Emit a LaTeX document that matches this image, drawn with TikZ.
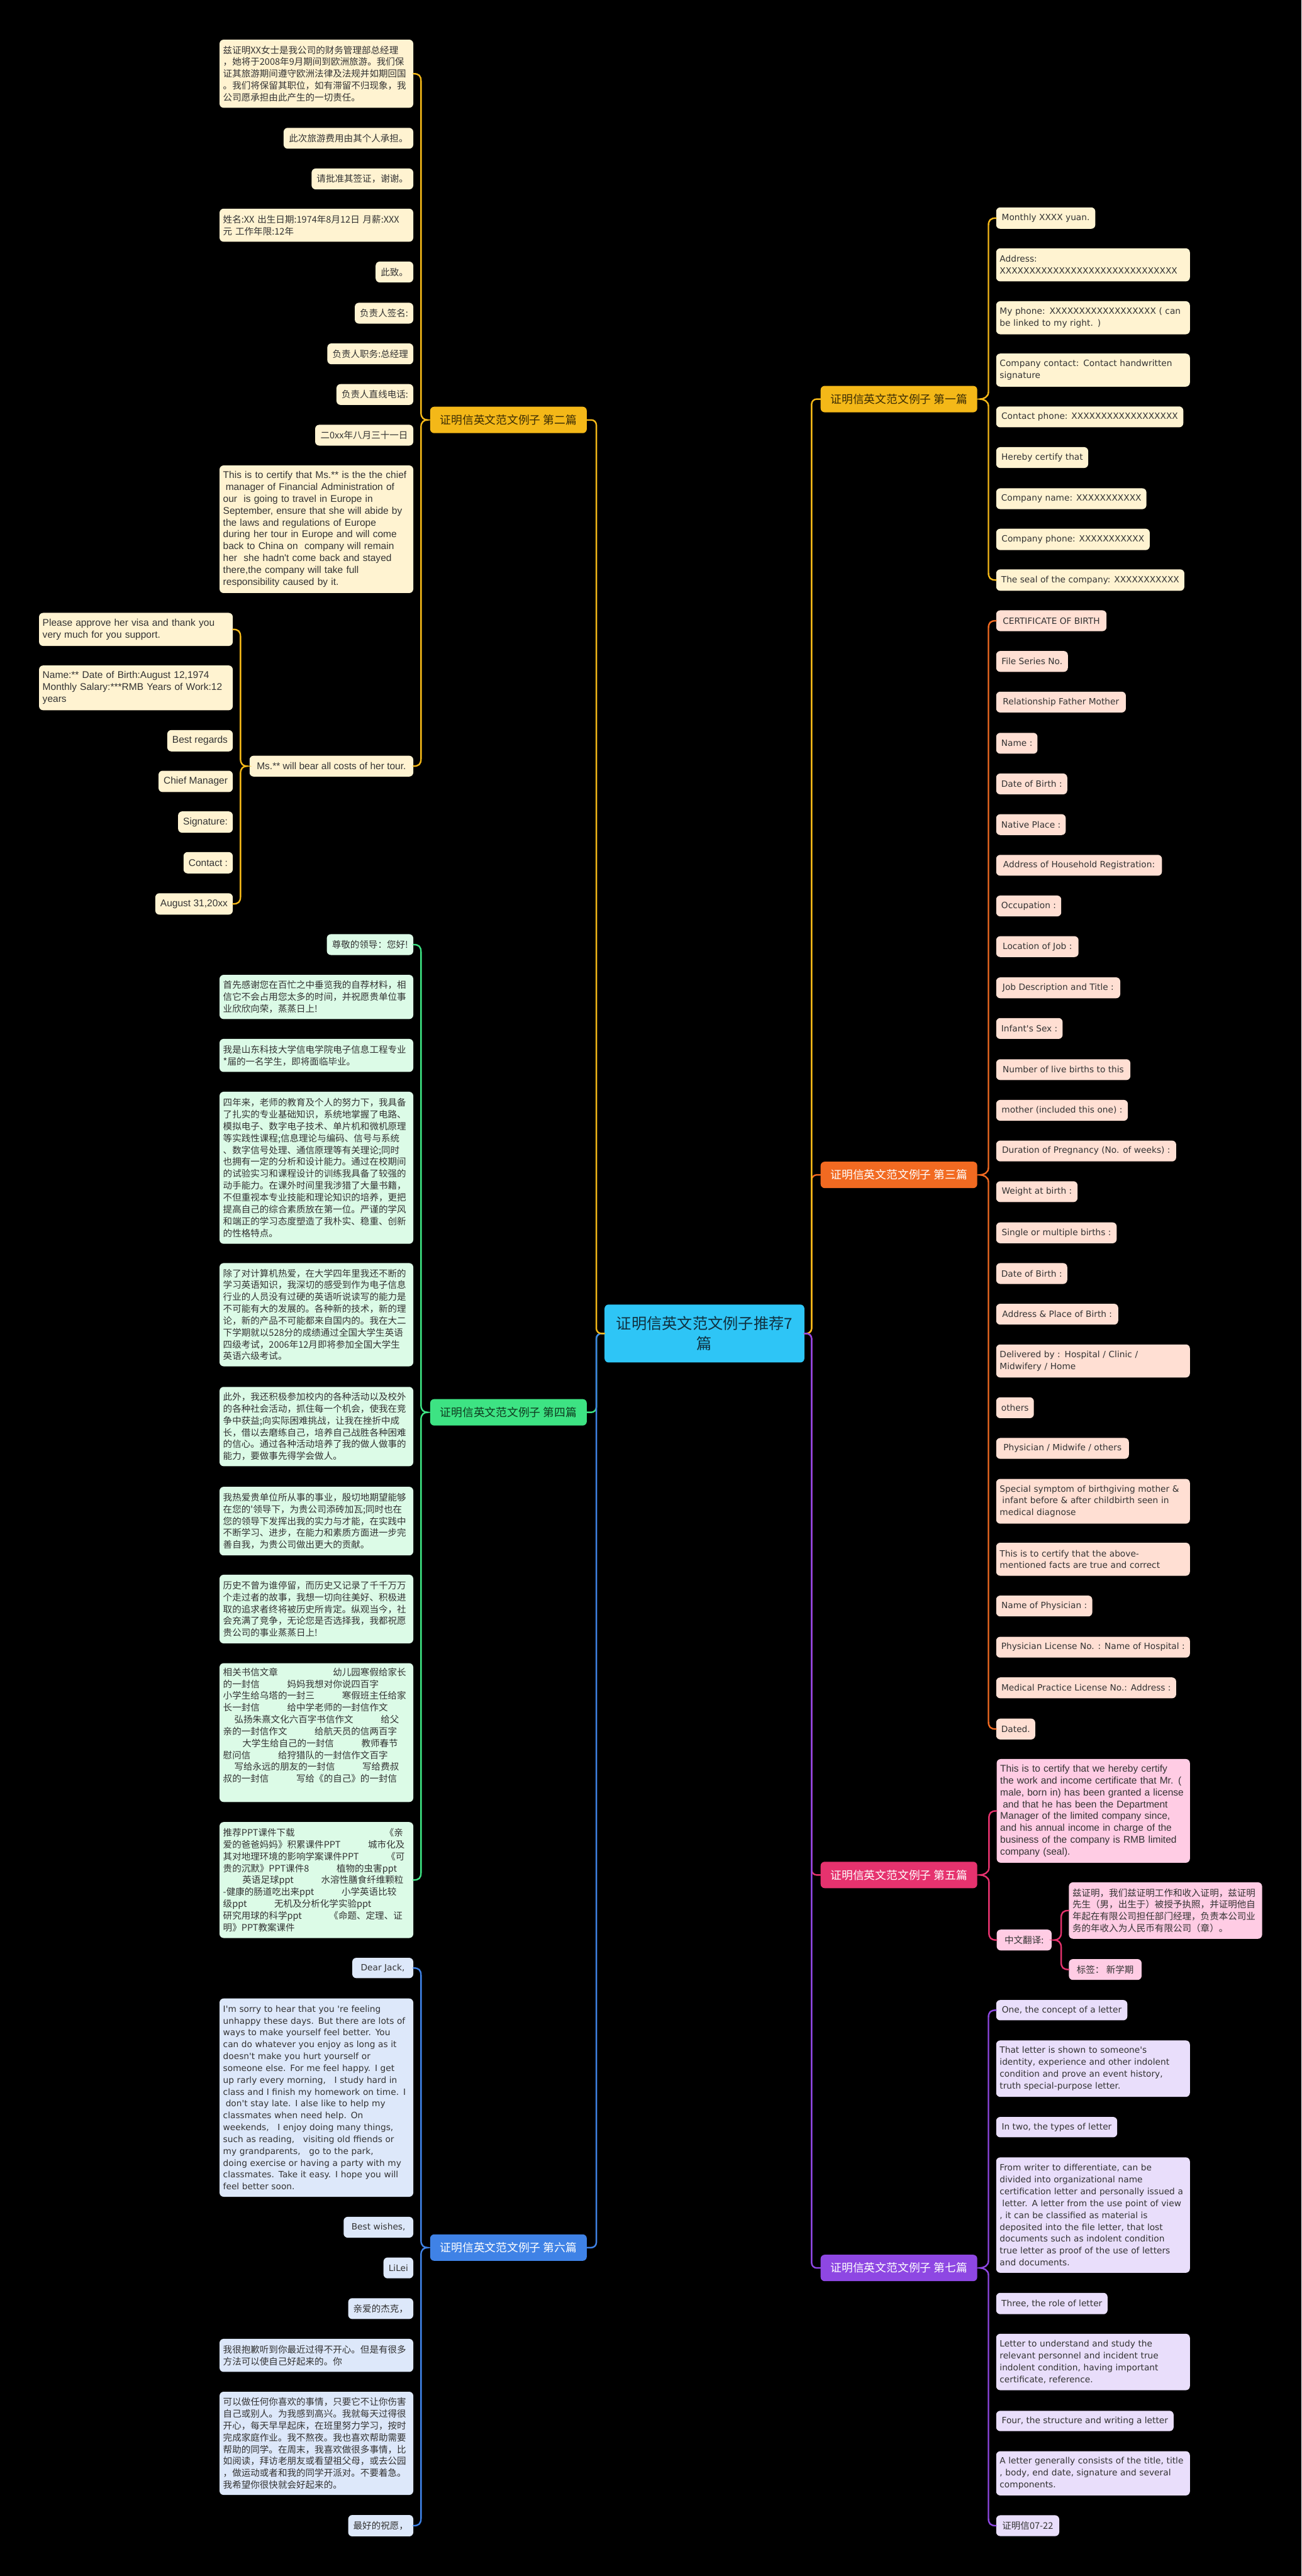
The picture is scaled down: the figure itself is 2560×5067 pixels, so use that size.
\documentclass[tikz,border=0pt]{standalone}
\usepackage{fontspec}
\usetikzlibrary{calc}
\newfontfamily\cjkf{Noto Sans CJK SC}
\newfontfamily\libf{Liberation Sans}
\newfontfamily\dejf{DejaVu Sans}
\newcommand\ftCJ{\cjkf\fontsize{18pt}{23.3pt}\selectfont}
\newcommand\ftLS{\libf\fontsize{19.2pt}{23.3pt}\selectfont}
\newcommand\ftDJ{\dejf\fontsize{17pt}{23.3pt}\selectfont}
\newcommand\ftBR{\cjkf\fontsize{22pt}{28pt}\selectfont}
\newcommand\ftMN{\cjkf\fontsize{30pt}{40pt}\selectfont}
\definecolor{cream}{HTML}{FFF3D1}
\definecolor{peach}{HTML}{FFDFD3}
\definecolor{pinkl}{HTML}{FFCCE4}
\definecolor{lav}{HTML}{E9DEFB}
\definecolor{mint}{HTML}{DCFBE7}
\definecolor{lblue}{HTML}{DDE8FA}
\definecolor{cY}{HTML}{F4B818}
\definecolor{cO}{HTML}{F26A21}
\definecolor{cP}{HTML}{E6326E}
\definecolor{cV}{HTML}{8E47E3}
\definecolor{cG}{HTML}{3DE383}
\definecolor{cB}{HTML}{3F82E6}
\definecolor{cC}{HTML}{2EC5F6}
\definecolor{txt}{HTML}{333333}
\definecolor{brownT}{HTML}{3A2C05}
\definecolor{greenT}{HTML}{0E3A1F}
\definecolor{darkT}{HTML}{10303F}
\newcommand\braceL[4]{%
 \path ($(#2.east)!(#4.west)!(#3.east)$) coordinate (bm);
 \draw[brc,#1] (#2.east) .. controls +(11,0) and +(0,-11) .. ($(#2.east)+(15,15)$)
   -- ($(bm)+(15,-14)$) .. controls +(0,10) and +(-7,0) .. ($(bm -| #4.west)+(-5,0)$)
   .. controls +(-7,0) and +(0,-10) .. ($(bm)+(15,14)$)
   -- ($(#3.east)+(15,-15)$) .. controls +(0,11) and +(11,0) .. (#3.east);}
\newcommand\braceR[4]{%
 \path ($(#2.west)!(#4.east)!(#3.west)$) coordinate (bm);
 \draw[brc,#1] (#2.west) .. controls +(-11,0) and +(0,-11) .. ($(#2.west)+(-15,15)$)
   -- ($(bm)+(-15,-14)$) .. controls +(0,10) and +(7,0) .. ($(bm -| #4.east)+(5,0)$)
   .. controls +(7,0) and +(0,-10) .. ($(bm)+(-15,14)$)
   -- ($(#3.west)+(-15,-15)$) .. controls +(0,11) and +(-11,0) .. (#3.west);}
\begin{document}
\begin{tikzpicture}[x=1pt,y=-1pt,
  lf/.style={rounded corners=8pt, inner xsep=10pt, inner ysep=2pt, align=left, text=txt},
  LL/.style={lf, anchor=east}, RR/.style={lf, anchor=west},
  mw/.style={minimum width=#1pt}, mh/.style={minimum height=#1pt},
  M/.style={text width=367pt, inner xsep=7pt},
  Mb/.style={text width=366pt, inner xsep=7pt},
  mh=41,
  br/.style={rounded corners=8pt, minimum width=308pt, minimum height=52pt, font=\ftBR, inner sep=0pt},
  conn/.style={line width=3pt, rounded corners=10pt, line cap=round},
  brc/.style={line width=3pt, line cap=round}]
\useasboundingbox (0,0) rectangle (2560,5067);
\fill[black] (0,0) rectangle (2560,5067);

% ---------- centre and branches ----------
\node[rounded corners=8pt, fill=cC, minimum width=393pt, minimum height=114pt, font=\ftMN, align=center, text=darkT] (c) at (1385.5,2623) {证明信英文范文例子推荐7\\篇};
\node[br,fill=cY,text=brownT] (b2) at (1000,826) {证明信英文范文例子 第二篇};
\node[br,fill=cG,text=greenT] (b4) at (1000,2778) {证明信英文范文例子 第四篇};
\node[br,fill=cB,text=white] (b6) at (1000,4421) {证明信英文范文例子 第六篇};
\node[br,fill=cY,text=brownT] (b1) at (1768,785) {证明信英文范文例子 第一篇};
\node[br,fill=cO,text=white] (b3) at (1768,2311) {证明信英文范文例子 第三篇};
\node[br,fill=cP,text=white] (b5) at (1768,3688) {证明信英文范文例子 第五篇};
\node[br,fill=cV,text=white] (b7) at (1768,4461) {证明信英文范文例子 第七篇};

% ---------- 第二篇 ----------
\node[LL,M,fill=cream,font=\ftCJ,mh=134] (a1) at (813,145) {兹证明XX女士是我公司的财务管理部总经理\\，她将于2008年9月期间到欧洲旅游。我们保\\证其旅游期间遵守欧洲法律及法规并如期回国\\。我们将保留其职位，如有滞留不归现象，我\\公司愿承担由此产生的一切责任。};
\node[LL,fill=cream,font=\ftCJ,mw=255] (a2) at (813,272) {此次旅游费用由其个人承担。};
\node[LL,fill=cream,font=\ftCJ,mw=200] (a3) at (813,352) {请批准其签证，谢谢。};
\node[LL,M,fill=cream,font=\ftCJ,mh=65] (a4) at (813,443) {姓名:XX 出生日期:1974年8月12日 月薪:XXX\\元 工作年限:12年};
\node[LL,fill=cream,font=\ftCJ,mw=74] (a5) at (813,535) {此致。};
\node[LL,fill=cream,font=\ftCJ,mw=114] (a6) at (813,616) {负责人签名:};
\node[LL,fill=cream,font=\ftCJ,mw=169] (a7) at (813,696) {负责人职务:总经理};
\node[LL,fill=cream,font=\ftCJ,mw=150] (a8) at (813,776) {负责人直线电话:};
\node[LL,fill=cream,font=\ftCJ,mw=193] (a9) at (813,856) {二0xx年八月三十一日};
\node[LL,M,fill=cream,font=\ftLS,mh=251] (a10) at (813,1041) {This is to certify that Ms.** is the the chief\\\hspace*{5pt}manager of Financial Administration of\\our\ \ is going to travel in Europe in\\September, ensure that she will abide by\\the laws and regulations of Europe\\during her tour in Europe and will come\\back to China on\ \ company will remain\\her\ \ she hadn't come back and stayed\\there,the company will take full\\responsibility caused by it.};
\node[LL,fill=cream,font=\ftLS,mw=322] (a11) at (813,1507) {Ms.** will bear all costs of her tour.};

\node[LL,M,fill=cream,font=\ftLS,mh=65] (s1) at (458,1238) {Please approve her visa and thank you\\very much for you support.};
\node[LL,M,fill=cream,font=\ftLS,mh=88] (s2) at (458,1353) {Name:** Date of Birth:August 12,1974\\Monthly Salary:***RMB Years of Work:12\\years};
\node[LL,fill=cream,font=\ftLS,mw=126,mh=42] (s3) at (458,1457) {Best regards};
\node[LL,fill=cream,font=\ftLS,mw=146,mh=42] (s4) at (458,1537) {Chief Manager};
\node[LL,fill=cream,font=\ftLS,mw=105,mh=42] (s5) at (458,1617) {Signature:};
\node[LL,fill=cream,font=\ftLS,mw=96,mh=42] (s6) at (458,1697) {Contact :};
\node[LL,fill=cream,font=\ftLS,mw=150,mh=42] (s7) at (458,1778) {August 31,20xx};

% ---------- 第四篇 ----------
\node[LL,fill=mint,font=\ftCJ,mw=170] (d1) at (813,1858) {尊敬的领导：您好!};
\node[LL,M,fill=mint,font=\ftCJ,mh=87] (d2) at (813,1961) {首先感谢您在百忙之中垂览我的自荐材料，相\\信它不会占用您太多的时间，并祝愿贵单位事\\业欣欣向荣，蒸蒸日上!};
\node[LL,M,fill=mint,font=\ftCJ,mh=65] (d3) at (813,2076) {我是山东科技大学信电学院电子信息工程专业\\**届的一名学生，即将面临毕业。};
\node[LL,M,fill=mint,font=\ftCJ,mh=299] (d4) at (813,2297) {四年来，老师的教育及个人的努力下，我具备\\了扎实的专业基础知识，系统地掌握了电路、\\模拟电子、数字电子技术、单片机和微机原理\\等实践性课程;信息理论与编码、信号与系统\\、数字信号处理、通信原理等有关理论;同时\\也拥有一定的分析和设计能力。通过在校期间\\的试验实习和课程设计的训练我具备了较强的\\动手能力。在课外时间里我涉猎了大量书籍，\\不但重视本专业技能和理论知识的培养，更把\\提高自己的综合素质放在第一位。严谨的学风\\和端正的学习态度塑造了我朴实、稳重、创新\\的性格特点。};
\node[LL,M,fill=mint,font=\ftCJ,mh=203] (d5) at (813,2586) {除了对计算机热爱，在大学四年里我还不断的\\学习英语知识，我深切的感受到作为电子信息\\行业的人员没有过硬的英语听说读写的能力是\\不可能有大的发展的。各种新的技术，新的理\\论，新的产品不可能都来自国内的。我在大二\\下学期就以528分的成绩通过全国大学生英语\\四级考试，2006年12月即将参加全国大学生\\英语六级考试。};
\node[LL,M,fill=mint,font=\ftCJ,mh=156] (d6) at (813,2806) {此外，我还积极参加校内的各种活动以及校外\\的各种社会活动，抓住每一个机会，使我在竞\\争中获益;向实际困难挑战，让我在挫折中成\\长，借以去磨练自己，培养自己战胜各种困难\\的信心。通过各种活动培养了我的做人做事的\\能力，要做事先得学会做人。};
\node[LL,M,fill=mint,font=\ftCJ,mh=135] (d7) at (813,2992) {我热爱贵单位所从事的事业，殷切地期望能够\\在您的'领导下，为贵公司添砖加瓦;同时也在\\您的领导下发挥出我的实力与才能，在实践中\\不断学习、进步，在能力和素质方面进一步完\\善自我，为贵公司做出更大的贡献。};
\node[LL,M,fill=mint,font=\ftCJ,mh=135] (d8) at (813,3165) {历史不曾为谁停留，而历史又记录了千千万万\\个走过者的故事，我想一切向往美好、积极进\\取的追求者终将被历史所肯定。纵观当今，社\\会充满了竞争，无论您是否选择我，我都祝愿\\贵公司的事业蒸蒸日上!};
\node[LL,M,fill=mint,font=\ftCJ,mh=273] (d9) at (813,3408) {相关书信文章\hspace{108pt}幼儿园寒假给家长\\的一封信\hspace{54pt}妈妈我想对你说四百字\\小学生给乌塔的一封三\hspace{54pt}寒假班主任给家\\长一封信\hspace{54pt}给中学老师的一封信作文\\\hspace*{22pt}弘扬朱熹文化六百字书信作文\hspace{54pt}给父\\亲的一封信作文\hspace{54pt}给航天员的信两百字\\\hspace*{38pt}大学生给自己的一封信\hspace{54pt}教师春节\\慰问信\hspace{54pt}给狩猎队的一封信作文百字\\\hspace*{22pt}写给永远的朋友的一封信\hspace{54pt}写给费叔\\叔的一封信\hspace{54pt}写给《的自己》的一封信\\\strut};
\node[LL,M,fill=mint,font=\ftCJ,mh=228] (d10) at (813,3698) {推荐PPT课件下载\hspace{177pt}《亲\\爱的爸爸妈妈》积累课件PPT\hspace{54pt}城市化及\\其对地理环境的影响学案课件PPT\hspace{54pt}《可\\贵的沉默》PPT课件8\hspace{54pt}植物的虫害ppt\\\hspace*{38pt}英语足球ppt\hspace{54pt}水溶性膳食纤维颗粒\\-健康的肠道吃出来ppt\hspace{54pt}小学英语比较\\级ppt\hspace{54pt}无机及分析化学实验ppt\\研究用球的科学ppt\hspace{54pt}《命题、定理、证\\明》PPT教案课件};

% ---------- 第六篇 ----------
\node[LL,fill=lblue,font=\ftDJ,mw=120,mh=40] (f1) at (813,3871) {Dear Jack,};
\node[LL,M,fill=lblue,font=\ftDJ,mh=390] (f2) at (813,4126) {I'm sorry to hear that you 're feeling\\unhappy these days. But there are lots of\\ways to make yourself feel better. You\\can do whatever you enjoy as long as it\\doesn't make you hurt yourself or\\someone else. For me feel happy. I get\\up rarly every morning,\ \ \ I study hard in\\class and I finish my homework on time. I\\\hspace*{5pt}don't stay late. I alse like to help my\\classmates when need help. On\\weekends,\ \ \ I enjoy doing many things,\\such as reading,\ \ \ visiting old ffiends or\\my grandparents,\ \ \ go to the park,\\doing exercise or having a party with my\\classmates. Take it easy. I hope you will\\feel better soon.};
\node[LL,fill=lblue,font=\ftDJ,mw=137] (f3) at (813,4381) {Best wishes,};
\node[LL,fill=lblue,font=\ftDJ,mw=58] (f4) at (813,4461) {LiLei};
\node[LL,fill=lblue,font=\ftCJ,mw=128] (f5) at (813,4541) {亲爱的杰克，};
\node[LL,M,fill=lblue,font=\ftCJ,mh=65] (f6) at (813,4633) {我很抱歉听到你最近过得不开心。但是有很多\\方法可以使自己好起来的。你};
\node[LL,M,fill=lblue,font=\ftCJ,mh=203] (f7) at (813,4806) {可以做任何你喜欢的事情，只要它不让你伤害\\自己或别人。为我感到高兴。我就每天过得很\\开心，每天早早起床，在班里努力学习，按时\\完成家庭作业。我不熬夜。我也喜欢帮助需要\\帮助的同学。在周末，我喜欢做很多事情，比\\如阅读，拜访老朋友或看望祖父母，或去公园\\，做运动或者和我的同学开派对。不要着急。\\我希望你很快就会好起来的。};
\node[LL,fill=lblue,font=\ftCJ,mw=128,mh=42] (f8) at (813,4968) {最好的祝愿，};

% ---------- 第一篇 ----------
\node[RR,fill=cream,font=\ftDJ,mw=195,mh=42] (r1) at (1959,429) {Monthly XXXX yuan.};
\node[RR,M,fill=cream,font=\ftDJ,mh=65] (r2) at (1959,521) {Address:\\XXXXXXXXXXXXXXXXXXXXXXXXXXXXXX};
\node[RR,M,fill=cream,font=\ftDJ,mh=65] (r3) at (1959,625) {My phone: XXXXXXXXXXXXXXXXXX ( can\\be linked to my right. )};
\node[RR,M,fill=cream,font=\ftDJ,mh=65] (r4) at (1959,728) {Company contact: Contact handwritten\\signature};
\node[RR,fill=cream,font=\ftDJ,mw=368] (r5) at (1959,820) {Contact phone: XXXXXXXXXXXXXXXXXX};
\node[RR,fill=cream,font=\ftDJ,mw=181] (r6) at (1959,900) {Hereby certify that};
\node[RR,fill=cream,font=\ftDJ,mw=294] (r7) at (1959,981) {Company name: XXXXXXXXXXX};
\node[RR,fill=cream,font=\ftDJ,mw=302,mh=42] (r8) at (1959,1061) {Company phone: XXXXXXXXXXX};
\node[RR,fill=cream,font=\ftDJ,mw=370,mh=42] (r9) at (1959,1141) {The seal of the company: XXXXXXXXXXX};

% ---------- 第三篇 ----------
\node[RR,fill=peach,font=\ftDJ,mw=217] (t1) at (1959,1221) {CERTIFICATE OF BIRTH};
\node[RR,fill=peach,font=\ftDJ,mw=141] (t2) at (1959,1301) {File Series No.};
\node[RR,fill=peach,font=\ftDJ,mw=255] (t3) at (1959,1381) {Relationship Father Mother};
\node[RR,fill=peach,font=\ftDJ,mw=80] (t4) at (1959,1462) {Name :};
\node[RR,fill=peach,font=\ftDJ,mw=139] (t5) at (1959,1542) {Date of Birth :};
\node[RR,fill=peach,font=\ftDJ,mw=135] (t6) at (1959,1622) {Native Place :};
\node[RR,fill=peach,font=\ftDJ,mw=326] (t7) at (1959,1702) {Address of Household Registration:};
\node[RR,fill=peach,font=\ftDJ,mw=128] (t8) at (1959,1782) {Occupation :};
\node[RR,fill=peach,font=\ftDJ,mw=162] (t9) at (1959,1862) {Location of Job :};
\node[RR,fill=peach,font=\ftDJ,mw=244] (t10) at (1959,1943) {Job Description and Title :};
\node[RR,fill=peach,font=\ftDJ,mw=128] (t11) at (1959,2023) {Infant's Sex :};
\node[RR,fill=peach,font=\ftDJ,mw=264] (t12) at (1959,2104) {Number of live births to this};
\node[RR,fill=peach,font=\ftDJ,mw=259] (t13) at (1959,2184) {mother (included this one) :};
\node[RR,fill=peach,font=\ftDJ,mw=354] (t14) at (1959,2264) {Duration of Pregnancy (No. of weeks) :};
\node[RR,fill=peach,font=\ftDJ,mw=160] (t15) at (1959,2344) {Weight at birth :};
\node[RR,fill=peach,font=\ftDJ,mw=237] (t16) at (1959,2425) {Single or multiple births :};
\node[RR,fill=peach,font=\ftDJ,mw=139] (t17) at (1959,2505) {Date of Birth :};
\node[RR,fill=peach,font=\ftDJ,mw=240] (t18) at (1959,2585) {Address \& Place of Birth :};
\node[RR,M,fill=peach,font=\ftDJ,mh=65] (t19) at (1959,2677) {Delivered by : Hospital / Clinic /\\Midwifery / Home};
\node[RR,fill=peach,font=\ftDJ,mw=74] (t20) at (1959,2769) {others};
\node[RR,fill=peach,font=\ftDJ,mw=261] (t21) at (1959,2849) {Physician / Midwife / others};
\node[RR,M,fill=peach,font=\ftDJ,mh=88] (t22) at (1959,2953) {Special symptom of birthgiving mother \&\\\hspace*{5pt}infant before \& after childbirth seen in\\medical diagnose};
\node[RR,M,fill=peach,font=\ftDJ,mh=65] (t23) at (1959,3067) {This is to certify that the above-\\mentioned facts are true and correct};
\node[RR,fill=peach,font=\ftDJ,mw=189] (t24) at (1959,3159) {Name of Physician :};
\node[RR,fill=peach,font=\ftDJ,mw=381] (t25) at (1959,3240) {Physician License No. : Name of Hospital :};
\node[RR,fill=peach,font=\ftDJ,mw=354] (t26) at (1959,3320) {Medical Practice License No.: Address :};
\node[RR,fill=peach,font=\ftDJ,mw=76] (t27) at (1959,3401) {Dated.};

% ---------- 第五篇 ----------
\node[RR,Mb,fill=pinkl,font=\ftLS,mh=204] (p1) at (1960,3562) {This is to certify that we hereby certify\\the work and income certificate that Mr. (\\male, born in) has been granted a license\\\hspace*{5pt}and that he has been the Department\\Manager of the limited company since,\\and his annual income in charge of the\\business of the company is RMB limited\\company (seal).};
\node[RR,fill=pinkl,font=\ftCJ,mw=108] (p2) at (1960,3816) {中文翻译:};
\node[RR,Mb,fill=pinkl,font=\ftCJ,mh=111] (p3) at (2102,3758) {兹证明，我们兹证明工作和收入证明，兹证明\\先生（男，出生于）被授予执照，并证明他自\\年起在有限公司担任部门经理，负责本公司业\\务的年收入为人民币有限公司（章）。};
\node[RR,fill=pinkl,font=\ftCJ,mw=143] (p4) at (2102,3874) {标签： 新学期};

% ---------- 第七篇 ----------
\node[RR,fill=lav,font=\ftDJ,mw=258,mh=40] (v1) at (1959,3954) {One, the concept of a letter};
\node[RR,M,fill=lav,font=\ftDJ,mh=111] (v2) at (1959,4069) {That letter is shown to someone's\\identity, experience and other indolent\\condition and prove an event history,\\truth special-purpose letter.};
\node[RR,fill=lav,font=\ftDJ,mw=238,mh=40] (v3) at (1959,4184) {In two, the types of letter};
\node[RR,M,fill=lav,font=\ftDJ,mh=227] (v4) at (1959,4357) {From writer to differentiate, can be\\divided into organizational name\\certification letter and personally issued a\\\hspace*{5pt}letter. A letter from the use point of view\\, it can be classified as material is\\deposited into the file letter, that lost\\documents such as indolent condition\\true letter as proof of the use of letters\\and documents.};
\node[RR,fill=lav,font=\ftDJ,mw=219,mh=42] (v5) at (1959,4531) {Three, the role of letter};
\node[RR,M,fill=lav,font=\ftDJ,mh=111] (v6) at (1959,4646) {Letter to understand and study the\\relevant personnel and incident true\\indolent condition, having important\\certificate, reference.};
\node[RR,fill=lav,font=\ftDJ,mw=349,mh=40] (v7) at (1959,4762) {Four, the structure and writing a letter};
\node[RR,M,fill=lav,font=\ftDJ,mh=87] (v8) at (1959,4865) {A letter generally consists of the title, title\\, body, end date, signature and several\\components.};
\node[RR,fill=lav,font=\ftCJ,mw=124] (v9) at (1959,4968) {证明信07-22};

% ---------- connectors ----------
\draw[conn,cG] (c.west) -- ++(-16,0) |- (b4.east);
\draw[conn,cB] (c.west) -- ++(-16,0) |- (b6.east);
\draw[conn,cY] (c.west) -- ++(-16,0) |- (b2.east);
\draw[conn,cO] (c.east) -- ++(14,0) |- (b3.west);
\draw[conn,cP] (c.east) -- ++(14,0) |- (b5.west);
\draw[conn,cY] (c.east) -- ++(14,0) |- (b1.west);
\draw[conn,cV] (c.east) -- ++(14,0) |- (b7.west);

\braceL{cY}{a1}{a11}{b2}
\braceL{cY}{s1}{s7}{a11}
\braceL{cG}{d1}{d10}{b4}
\braceL{cB}{f1}{f8}{b6}
\braceR{cY}{r1}{r9}{b1}
\braceR{cO}{t1}{t27}{b3}
\braceR{cP}{p1}{p2}{b5}
\braceR{cP}{p3}{p4}{p2}
\braceR{cV}{v1}{v9}{b7}
\end{tikzpicture}
\end{document}
